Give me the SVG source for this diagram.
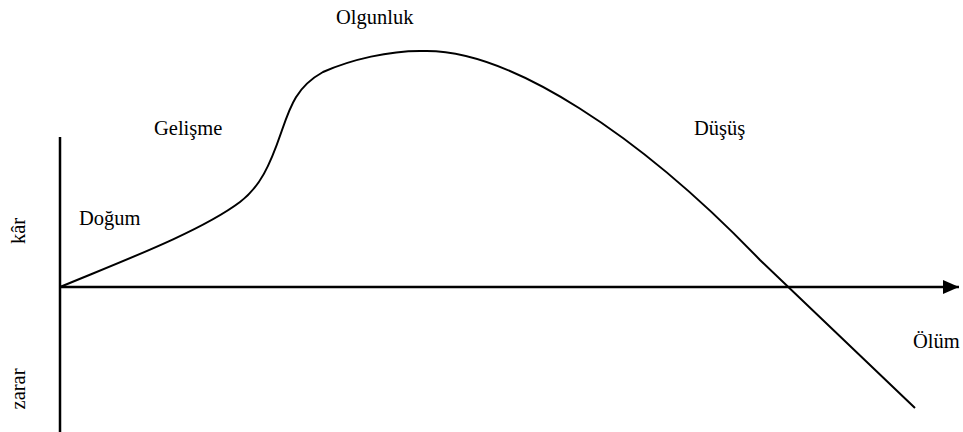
<svg xmlns="http://www.w3.org/2000/svg" width="963" height="432" viewBox="0 0 963 432">
<style>
.t{font-family:'Liberation Serif','Times New Roman',Tinos,'DejaVu Serif',serif;font-size:20.5px;fill:#000}
.ax{stroke:#000;stroke-width:2.5;fill:none}
.cv{stroke:#000;stroke-width:2;fill:none}
</style>
<defs>
<marker id="arr" markerUnits="userSpaceOnUse" markerWidth="18" markerHeight="16" refX="16" refY="8" orient="auto">
<path d="M0,1 L16,8 L0,15 Z" fill="#000"/>
</marker>
</defs>
<rect width="963" height="432" fill="#fff"/>
<g id="connectors">
<line class="ax" x1="60" y1="137" x2="60" y2="432"/>
<line class="ax" x1="60" y1="287" x2="959" y2="287" marker-end="url(#arr)"/>
<path id="curve" class="cv" d="M60,287 C120,262 200,232 240,202 C260,187 270,165 281,133 C290,107 296,87 323,72 C350,60 390,50 425,51 C510,50 640,135 760,260 L915,408"/>
</g>
<g id="labels" font-family="Liberation Serif, Times New Roman, serif">
<text class="t" x="336" y="24">Olgunluk</text>
<text class="t" x="154" y="135">Gelişme</text>
<text class="t" x="79" y="225">Doğum</text>
<text class="t" x="694" y="135">Düşüş</text>
<text class="t" x="913" y="348">Ölüm</text>
<text class="t" transform="translate(25,231) rotate(-90)" text-anchor="middle">kâr</text>
<text class="t" transform="translate(25,389) rotate(-90)" text-anchor="middle">zarar</text>
</g>
</svg>
